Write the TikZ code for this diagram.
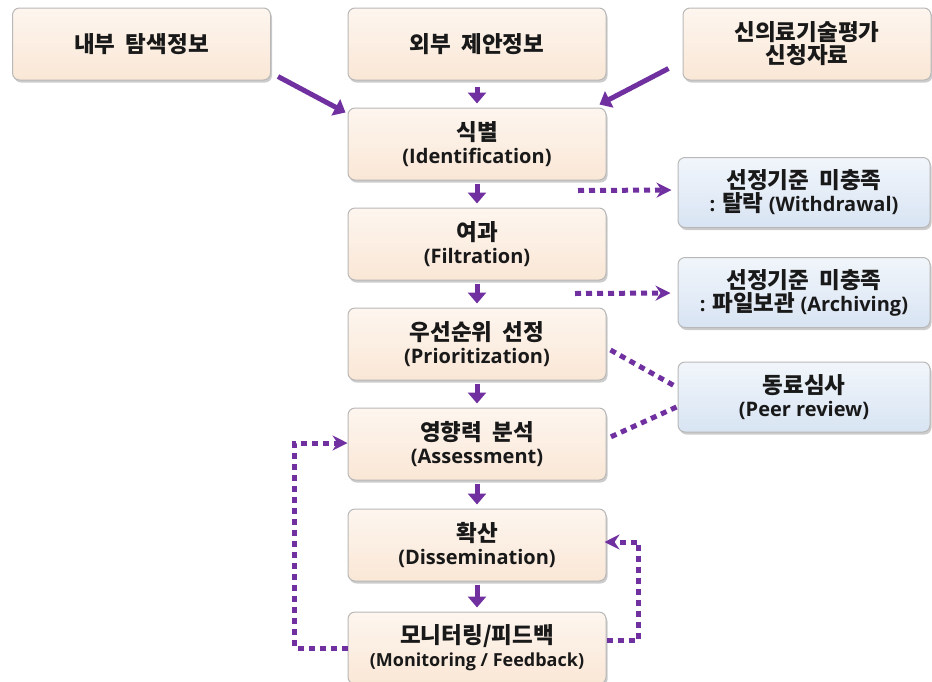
\documentclass[tikz,border=0pt]{standalone}
\usepackage{fontspec}
\setmainfont{Open Sans}
\newfontfamily\krfont{Noto Sans CJK KR}[WordSpace=2]
\usetikzlibrary{arrows.meta,shadows}
\definecolor{flowpurple}{HTML}{7030A0}
\definecolor{stagefill}{RGB}{250,231,214}
\definecolor{sidefill}{RGB}{216,228,243}
\newcommand{\ko}[1]{{\krfont\fontsize{22.5}{23}\selectfont #1}}

\begin{document}
\begin{tikzpicture}[x=1pt,y=-1pt]
 \tikzstyle{stage}=[rectangle,rounded corners=7pt,draw=black!28,line width=1pt,top color=stagefill!40!white,bottom color=stagefill,drop shadow={shadow xshift=1.5pt,shadow yshift=-2.5pt,fill=black!40,opacity=0.5},minimum width=258pt,minimum height=72pt,align=center,text=black!90,font=\bfseries\fontsize{20}{23}\selectfont]
 \tikzstyle{side}=[stage,top color=sidefill!35!white,bottom color=sidefill,minimum width=252pt,minimum height=70pt]
 \tikzstyle{flow}=[-{Triangle[length=11pt,width=18pt]},line width=5pt,draw=flowpurple]
 \tikzstyle{dotline}=[line width=5pt,draw=flowpurple,dash pattern=on 6pt off 5pt]
 \tikzstyle{dotflow}=[dotline,-{Stealth[length=15pt,width=15pt,inset=5pt]}]
 \useasboundingbox (0,0) rectangle (932,681);
 %
 \node[stage] (in1) at (141.5,44) {\ko{내부 탐색정보}};
 \node[stage] (in2) at (477,44) {\ko{외부 제안정보}};
 \node[stage,minimum width=248pt] (in3) at (807,44) {\ko{신의료기술평가}\\\ko{신청자료}};
 \node[stage] (ident) at (477,144) {\ko{식별}\\(Identification)};
 \node[stage] (filt) at (477,244) {\ko{여과}\\(Filtration)};
 \node[stage] (prio) at (477,344) {\ko{우선순위 선정}\\(Prioritization)};
 \node[stage] (assess) at (477,444) {\ko{영향력 분석}\\(Assessment)};
 \node[stage] (diss) at (477,545) {\ko{확산}\\(Dissemination)};
 \node[stage] (monit) at (477,648) {\ko{모니터링/피드백}\\{\fontsize{18}{21}\selectfont(Monitoring / Feedback)}};
 \node[side] (withdraw) at (804,192.5) {\ko{선정기준 미충족}\\: \ko{탈락} (Withdrawal)};
 \node[side] (archive) at (804,292.5) {\ko{선정기준 미충족}\\: \ko{파일보관} (Archiving)};
 \node[side] (peer) at (804,397) {\ko{동료심사}\\(Peer review)};
 %
 \draw[flow] ([shift={(7,-4)}]in1.south east)--([shift={(-2,5)}]ident.north west);
 \draw[flow] ([shift={(0,6)}]in2.south)--([shift={(0,-4)}]ident.north);
 \draw[flow] ([shift={(-14,-12)}]in3.south west)--([shift={(-7,-3)}]ident.north east);
 \draw[flow] ([shift={(0,3)}]ident.south)--([shift={(0,-4)}]filt.north);
 \draw[flow] ([shift={(0,3)}]filt.south)--([shift={(0,-4)}]prio.north);
 \draw[flow] ([shift={(0,3)}]prio.south)--([shift={(0,-4)}]assess.north);
 \draw[flow] ([shift={(0,3)}]assess.south)--([shift={(0,-4)}]diss.north);
 \draw[flow] ([shift={(0,3)}]diss.south)--([shift={(0,-4)}]monit.north);
 \draw[dotflow] ([shift={(101,10)}]ident.south)--([shift={(-6,-2.5)}]withdraw.west);
 \draw[dotflow] ([shift={(98,13)}]filt.south)--([shift={(-7,0.5)}]archive.west);
 \draw[dotline] ([shift={(4,6)}]prio.east)--([shift={(-1,-10)}]peer.west);
 \draw[dotline] ([shift={(-1,10)}]peer.west)--([shift={(4,-7)}]assess.east);
 \draw[dotflow] (monit.west)--++(-53,0) |- ([shift={(0,-1)}]assess.west);
 \draw[dotflow] ([shift={(0,-8)}]monit.east)--++(32,0) |- ([shift={(-2,-3)}]diss.east);
\end{tikzpicture}
\end{document}
